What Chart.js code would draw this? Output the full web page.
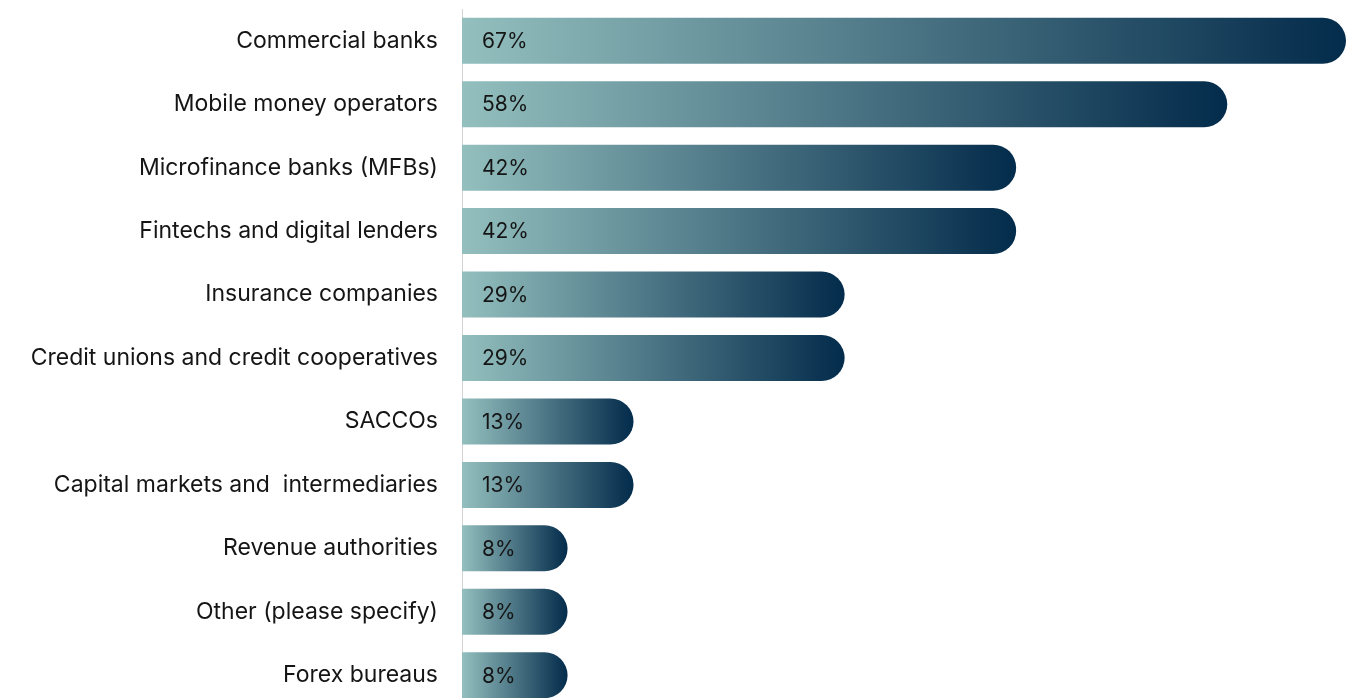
<!DOCTYPE html>
<html>
<head>
<meta charset="utf-8">
<script src="https://cdn.jsdelivr.net/npm/chart.js@4/dist/chart.umd.min.js"></script>
<style>
  html, body { margin: 0; padding: 0; background: #fff; overflow: hidden; }
  #wrap { position: absolute; left: 0; top: 0; width: 1349px; height: 707px; }
</style>
</head>
<body>
<div id="wrap"><canvas id="channelChart"></canvas></div>
<script>
// 机构类别
const categories = [
  'Commercial banks',
  'Mobile money operators',
  'Microfinance banks (MFBs)',
  'Fintechs and digital lenders',
  'Insurance companies',
  'Credit unions and credit cooperatives',
  'SACCOs',
  'Capital markets and  intermediaries',
  'Revenue authorities',
  'Other (please specify)',
  'Forex bureaus'
];

// 各类别占比 (%)
const shares = [67, 58, 42, 42, 29, 29, 13, 13, 8, 8, 8];

// 渐变色：左浅右深
const lightColor = '#93bfbe';
const darkColor = '#032b4b';

// 每根柱子单独的横向渐变
function barGradient(context) {
  const chart = context.chart;
  const { ctx, chartArea, scales } = chart;
  if (!chartArea) return darkColor;
  const value = context.raw;
  const x0 = scales.x.getPixelForValue(0);
  const x1 = scales.x.getPixelForValue(value);
  const g = ctx.createLinearGradient(x0, 0, x1, 0);
  g.addColorStop(0, lightColor);
  g.addColorStop(1, darkColor);
  return g;
}

// 柱内左侧的百分比标签
const valueLabels = {
  id: 'valueLabels',
  afterDatasetsDraw(chart) {
    const { ctx } = chart;
    const meta = chart.getDatasetMeta(0);
    ctx.save();
    ctx.font = '21px Inter, "Noto Sans", sans-serif';
    ctx.fillStyle = '#151515';
    ctx.textAlign = 'left';
    ctx.textBaseline = 'middle';
    meta.data.forEach((bar, i) => {
      ctx.fillText(shares[i] + '%', bar.base + 20, bar.y + 1);
    });
    ctx.restore();
  }
};

const ctx = document.getElementById('channelChart').getContext('2d');

new Chart(ctx, {
  type: 'bar',
  data: {
    labels: categories,
    datasets: [{
      data: shares,
      backgroundColor: barGradient,
      borderWidth: 0,
      borderSkipped: 'start',
      borderRadius: { topRight: 23, bottomRight: 23, topLeft: 0, bottomLeft: 0 },
      barPercentage: 0.725,
      categoryPercentage: 1
    }]
  },
  options: {
    indexAxis: 'y',
    responsive: true,
    maintainAspectRatio: false,
    animation: false,
    layout: { padding: { top: 9, right: 3, bottom: 0, left: 0 } },
    plugins: {
      legend: { display: false },
      tooltip: { enabled: false }
    },
    scales: {
      x: {
        display: false,
        min: 0,
        max: 67
      },
      y: {
        // 固定轴宽，去掉标签带来的上下留白
        afterFit(scale) {
          scale.width = 462;
          scale.paddingTop = 0;
          scale.paddingBottom = 0;
        },
        grid: { display: false, drawOnChartArea: false },
        border: { display: true, color: '#d4d4d4', width: 1 },
        ticks: {
          padding: 16,
          color: '#151515',
          font: { family: 'Inter, "Noto Sans", sans-serif', size: 23 }
        }
      }
    }
  },
  plugins: [valueLabels]
});
</script>
</body>
</html>
